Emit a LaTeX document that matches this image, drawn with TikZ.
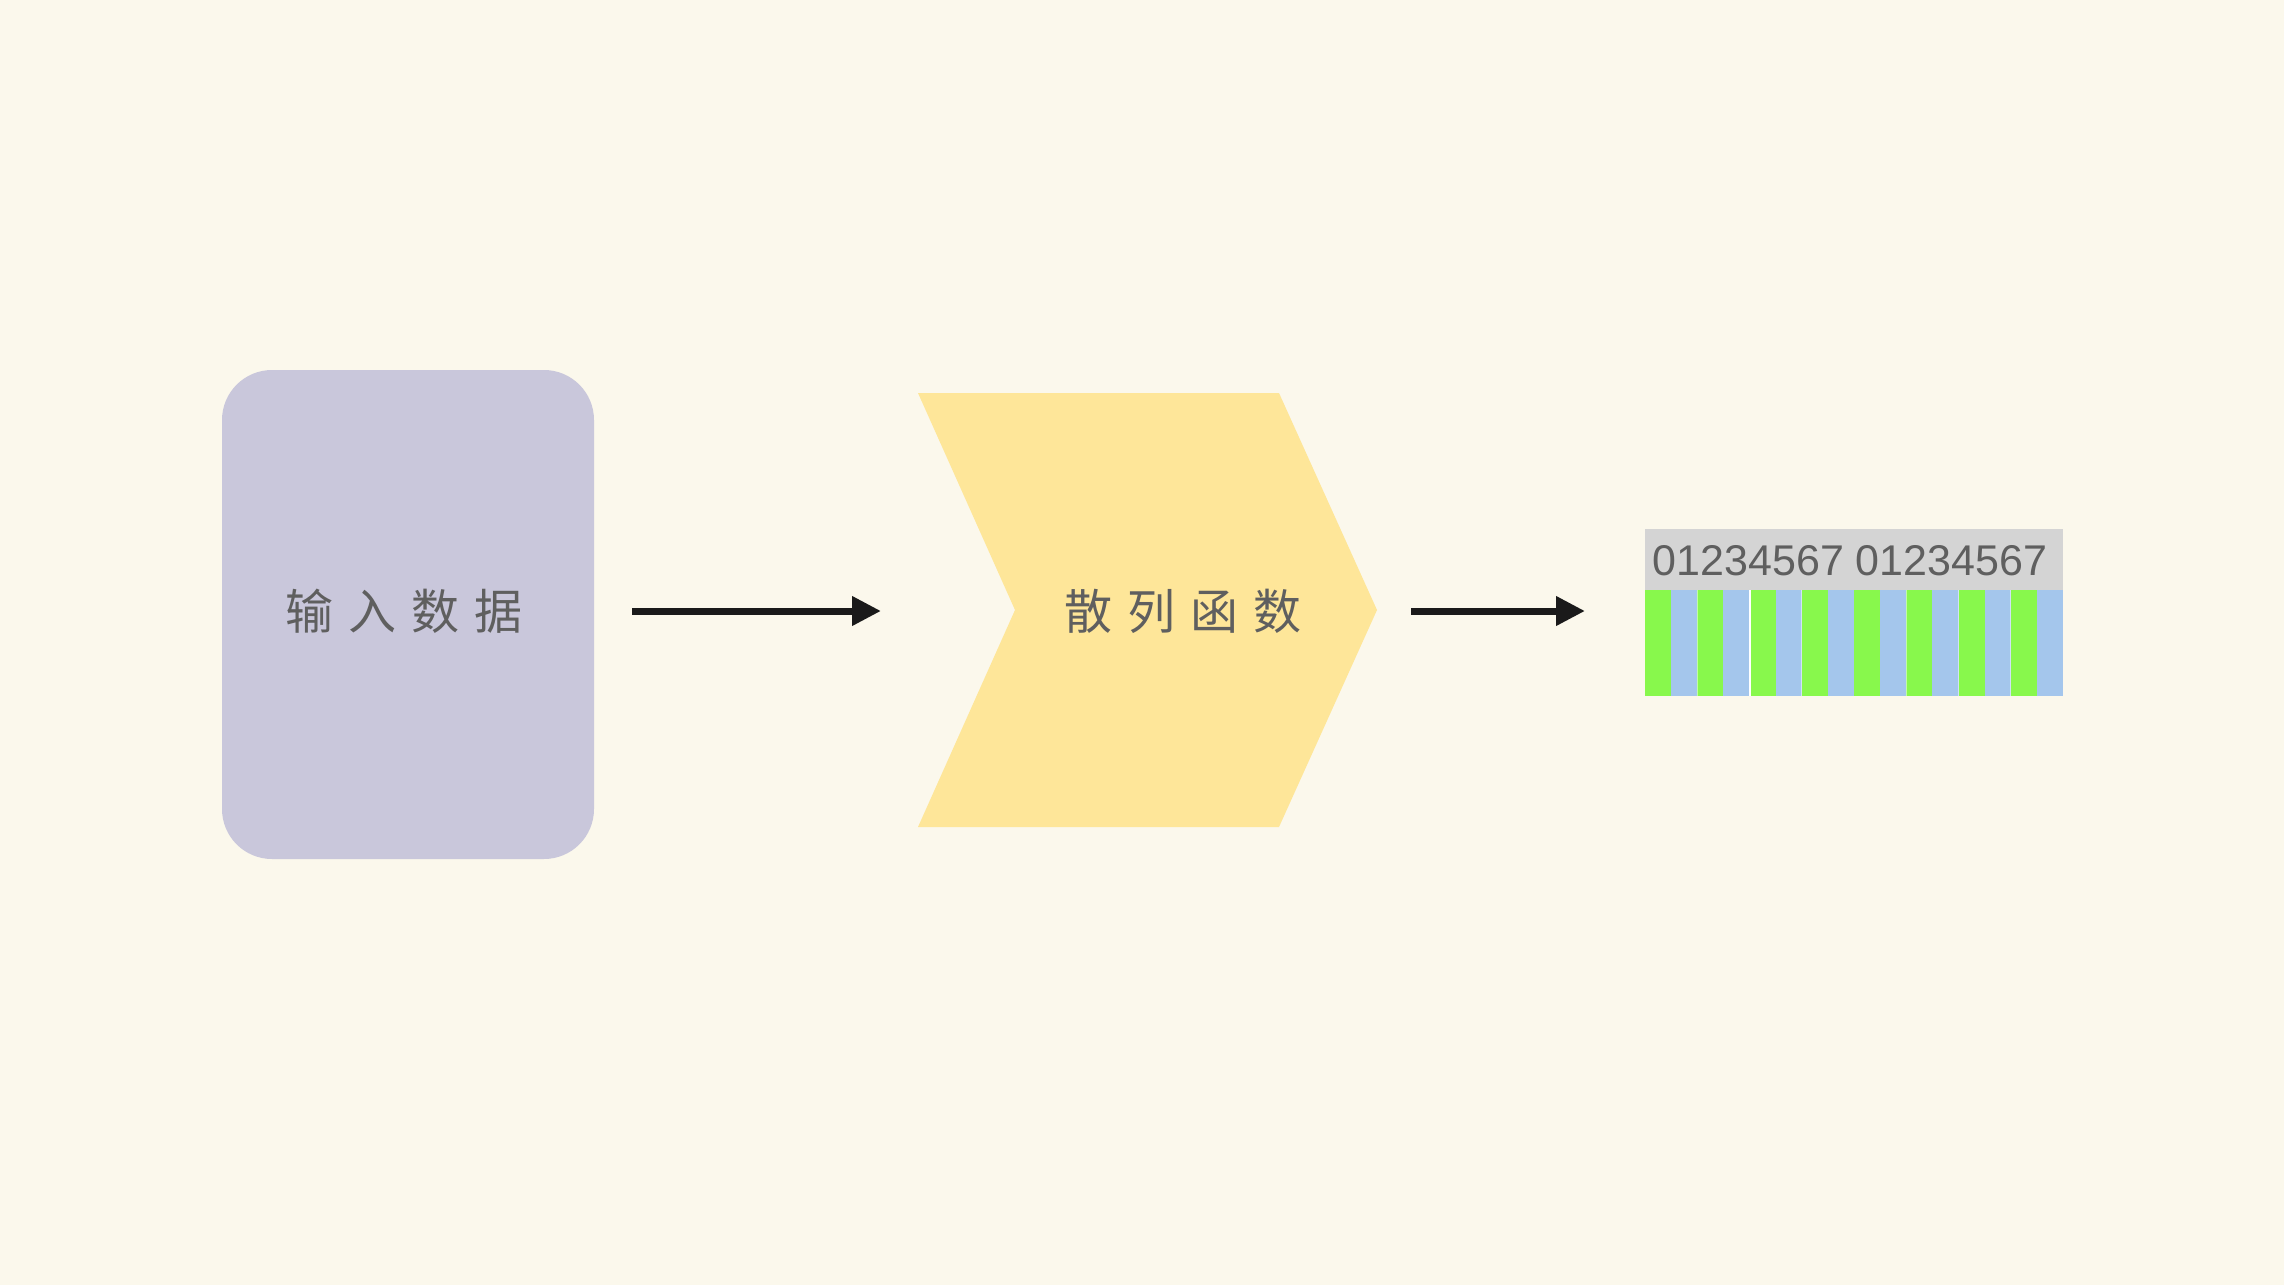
\documentclass[tikz,border=0pt]{standalone}
\usepackage{fontspec}
\setmainfont{Liberation Sans}
\newfontfamily\cjk{Noto Sans CJK SC}
\usetikzlibrary{arrows.meta}
\definecolor{bgc}{HTML}{FBF8EC}
\definecolor{boxc}{HTML}{C9C7DB}
\definecolor{chevc}{HTML}{FEE699}
\definecolor{txtc}{HTML}{5F5F5F}
\definecolor{greyc}{HTML}{D4D4D4}
\definecolor{greenc}{HTML}{88F84C}
\definecolor{bluec}{HTML}{A4C6EC}
\definecolor{arrc}{HTML}{1A1A1A}
\tikzset{
  arr/.style={draw=arrc, line width=7pt, -{Triangle[length=29pt,width=28pt]}},
  cjklabel/.style={text=txtc, font=\cjk\fontsize{48pt}{52pt}\selectfont, inner sep=0pt},
  numlabel/.style={text=txtc, font=\fontsize{43pt}{48pt}\selectfont, inner sep=0pt},
}
\newcommand{\gp}{\hspace{15pt}}
\begin{document}
\begin{tikzpicture}[x=1pt,y=-1pt]
\fill[bgc] (0,0) rectangle (2284,1285);
\useasboundingbox (0,0) rectangle (2284,1285);
% input box
\fill[boxc, rounded corners=50pt] (222,370) rectangle (594,859);
\node[cjklabel] (input) at (404,611) {输\gp 入\gp 数\gp 据};
% chevron
\fill[chevc] (918,393) -- (1279,393) -- (1377,610) -- (1279,827) -- (918,827) -- (1015,610) -- cycle;
\node[cjklabel] (hash) at (1183,611) {散\gp 列\gp 函\gp 数};
% output bar
\fill[greyc] (1645,529) rectangle (2063,590);
\node[numlabel] (nums) at (1850,561) {01234567 01234567};
\foreach \i in {0,...,15}{
  \pgfmathsetmacro{\xa}{1645+\i*26.125}
  \pgfmathsetmacro{\xb}{1645+(\i+1)*26.125}
  \ifodd\i
    \fill[bluec] (\xa,590) rectangle (\xb,696);
  \else
    \fill[greenc] (\xa,590) rectangle (\xb,696);
  \fi
}
\foreach \i in {2,6,10,12,14}{
  \pgfmathsetmacro{\xa}{1645+\i*26.125}
  \draw[white, line width=1pt, opacity=0.5] (\xa,590) -- (\xa,696);
}
\draw[white, line width=2pt] (1749.5,590) -- (1749.5,696);
% connectors
\coordinate (a1s) at (632,611);
\coordinate (a1e) at (881,611);
\coordinate (a2s) at (1411,611);
\coordinate (a2e) at (1585,611);
\draw[arr] (a1s) -- (a1e);
\draw[arr] (a2s) -- (a2e);
\end{tikzpicture}
\end{document}
